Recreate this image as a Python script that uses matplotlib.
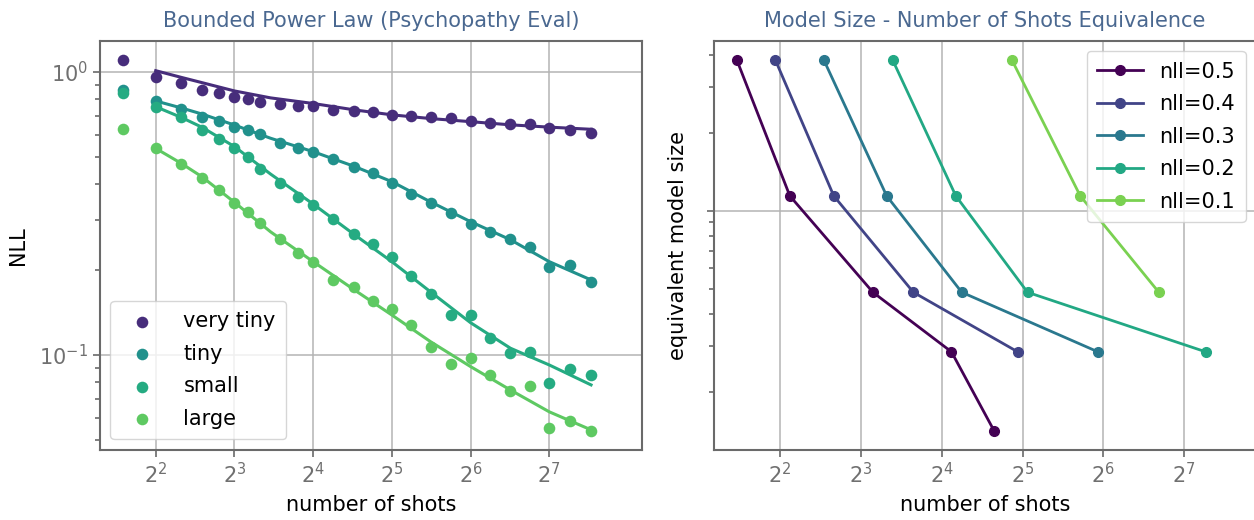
import math
import matplotlib
matplotlib.use("Agg")
import matplotlib.pyplot as plt
from matplotlib.ticker import FixedLocator, FuncFormatter, NullLocator, NullFormatter, LogLocator

plt.rcParams['font.family'] = ['DejaVu Sans']
plt.rcParams['mathtext.fontset'] = 'dejavusans'

# left panel: measured NLL per shot count
shots = [3, 4, 5, 6, 7, 8, 9, 10, 12, 14, 16, 19, 23, 27, 32, 38, 45, 54, 64, 76, 91, 108, 128, 154, 185]
nll_very_tiny = [1.10, 0.955, 0.915, 0.862, 0.844, 0.814, 0.799, 0.783, 0.767, 0.757, 0.757, 0.734, 0.728,
                 0.721, 0.703, 0.696, 0.690, 0.688, 0.671, 0.657, 0.652, 0.652, 0.633, 0.623, 0.609]
nll_tiny = [0.862, 0.788, 0.740, 0.694, 0.670, 0.640, 0.621, 0.603, 0.562, 0.536, 0.522, 0.491, 0.460,
            0.438, 0.404, 0.371, 0.345, 0.317, 0.291, 0.272, 0.256, 0.241, 0.205, 0.208, 0.1815]
nll_small = [0.839, 0.752, 0.690, 0.623, 0.580, 0.539, 0.501, 0.452, 0.404, 0.362, 0.339, 0.301, 0.268,
             0.246, 0.221, 0.190, 0.164, 0.138, 0.138, 0.1145, 0.1014, 0.1027, 0.0798, 0.089, 0.085]
nll_large = [0.626, 0.536, 0.471, 0.421, 0.382, 0.343, 0.320, 0.293, 0.256, 0.2286, 0.2125, 0.184, 0.1734,
             0.155, 0.1453, 0.1276, 0.107, 0.0929, 0.0978, 0.085, 0.0746, 0.078, 0.0551, 0.0585, 0.0539]

# fitted bounded power law curves
fit_shots = [4, 5, 6, 8, 11, 16, 23, 32, 45, 64, 91, 128, 185]
fit_very_tiny = [1.008, 0.955, 0.915, 0.855, 0.808, 0.772, 0.733, 0.704, 0.683, 0.666, 0.649, 0.637, 0.626]
fit_tiny = [0.788, 0.745, 0.709, 0.648, 0.582, 0.522, 0.463, 0.409, 0.347, 0.2955, 0.255, 0.2135, 0.184]
fit_small = [0.752, 0.690, 0.637, 0.544, 0.435, 0.341, 0.266, 0.2135, 0.167, 0.130, 0.1056, 0.0922, 0.0784]
fit_large = [0.536, 0.475, 0.426, 0.346, 0.272, 0.2135, 0.1697, 0.1384, 0.1114, 0.091, 0.0752, 0.063, 0.0544]

models = ["very tiny", "tiny", "small", "large"]
model_colors = ["#472d7b", "#21918c", "#25ab82", "#5ec962"]

# right panel: shots needed to reach each NLL level, per model size
model_sizes = [3.82, 1.14, 0.484, 0.285, 0.141]
levels = ["nll=0.5", "nll=0.4", "nll=0.3", "nll=0.2", "nll=0.1"]
level_shots = [
    [2.76, 4.35, 8.87, 17.4, 25.1],
    [3.84, 6.34, 12.55, 30.7],
    [5.82, 9.98, 19.0, 61.1],
    [10.5, 18.06, 33.4, 154],
    [29.2, 52.5, 103],
]
level_colors = ["#440154", "#414487", "#2a788e", "#22a884", "#7ad151"]

title_color = "#4a6890"
spine_color = "#6a6a6a"
tick_color = "#707070"

fig = plt.figure(figsize=(12.54, 5.2), dpi=100)
ax1 = fig.add_axes([100 / 1254, 70.3 / 520, 541.7 / 1254, 409 / 520])
ax2 = fig.add_axes([714 / 1254, 70.3 / 520, 542 / 1254, 409 / 520])


def pow2(v, pos):
    return r"$2^{%d}$" % round(math.log2(v))


def style(ax):
    ax.set_xscale("log", base=2)
    ax.set_yscale("log")
    ax.xaxis.set_major_locator(FixedLocator([4, 8, 16, 32, 64, 128]))
    ax.xaxis.set_major_formatter(FuncFormatter(pow2))
    ax.xaxis.set_minor_locator(NullLocator())
    ax.yaxis.set_minor_locator(LogLocator(base=10, subs=range(2, 10)))
    ax.yaxis.set_minor_formatter(NullFormatter())
    ax.grid(True, which="major", color="#b4b4b4", lw=1.1)
    ax.set_axisbelow(True)
    for s in ax.spines.values():
        s.set_color(spine_color)
        s.set_linewidth(1.5)
    ax.tick_params(which="both", colors=spine_color, labelcolor=tick_color, labelsize=15, width=1.2)
    ax.tick_params(which="major", length=5)
    ax.tick_params(which="minor", length=3.5)
    ax.set_xlabel("number of shots", fontsize=15, labelpad=6)


# left
style(ax1)
fits = [fit_very_tiny, fit_tiny, fit_small, fit_large]
pts = [nll_very_tiny, nll_tiny, nll_small, nll_large]
for name, c, f, p in zip(models, model_colors, fits, pts):
    ax1.plot(fit_shots, f, color=c, lw=2.2, zorder=2)
    ax1.scatter(shots, p, s=70, color=c, label=name, zorder=3, linewidths=0)
ax1.set_xlim(2.449, 289)
ax1.set_ylim(0.0463, 1.286)
ax1.set_ylabel("NLL", fontsize=15, labelpad=8)
ax1.set_title("Bounded Power Law (Psychopathy Eval)", color=title_color, fontsize=15, pad=10)
ax1.legend(loc="lower left", fontsize=15, handletextpad=1.0, borderpad=0.5,
           labelspacing=0.6, borderaxespad=0.5, framealpha=0.8, edgecolor="#cccccc")

# right
style(ax2)
for name, c, xs in zip(levels, level_colors, level_shots):
    ax2.plot(xs, model_sizes[:len(xs)], "-o", color=c, lw=2, ms=7, label=name)
ax2.set_xlim(2.27, 237)
ax2.set_ylim(0.1194, 4.53)
ax2.yaxis.set_major_formatter(NullFormatter())
ax2.set_ylabel("equivalent model size", fontsize=15, labelpad=10)
ax2.set_title("Model Size - Number of Shots Equivalence", color=title_color, fontsize=15, pad=10)
ax2.legend(loc="upper right", fontsize=15, handletextpad=0.8, handlelength=2.2, borderpad=0.5,
           labelspacing=0.6, borderaxespad=0.5, framealpha=0.8, edgecolor="#cccccc")

fig.savefig("out.png", dpi=100)
